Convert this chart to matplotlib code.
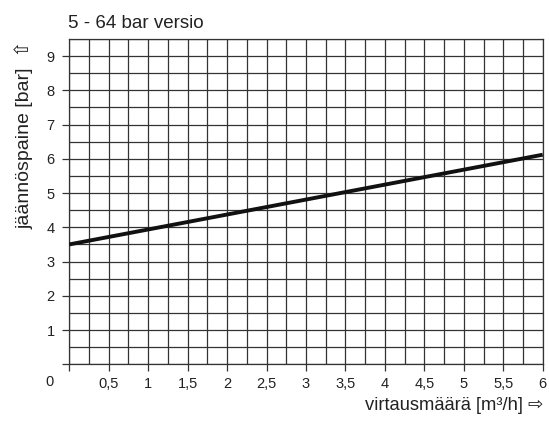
import numpy as np
import matplotlib
matplotlib.use("Agg")
import matplotlib.pyplot as plt

plt.rcParams['font.family'] = ['Liberation Sans', 'DejaVu Sans']

flow = [0.0, 6.0]
pressure = [3.5, 6.12]
x_ticks = [0.5, 1, 1.5, 2, 2.5, 3, 3.5, 4, 4.5, 5, 5.5, 6]
y_ticks = [1, 2, 3, 4, 5, 6, 7, 8, 9]

fig = plt.figure(figsize=(5.49, 4.23), dpi=100)
ax = fig.add_axes([0.1262, 0.1389, 0.9885 - 0.1262, 0.9078 - 0.1389])
ax.set_xlim(0, 6)
ax.set_ylim(0, 9.5)

gc = '#333333'
ax.set_xticks(np.arange(0, 6.01, 0.25), minor=True)
ax.set_yticks(np.arange(0, 9.51, 0.5), minor=True)
ax.grid(which='both', color=gc, linewidth=0.9)
ax.tick_params(which='minor', length=0)

ax.set_xticks([0] + x_ticks)
ax.set_xticklabels([''] + [str(v).replace('.', ',') if v != int(v) else str(int(v)) for v in x_ticks])
ax.set_yticks([0] + y_ticks)
ax.set_yticklabels([''] + [str(v) for v in y_ticks])
ax.tick_params(which='major', length=5, width=0.9, color=gc, labelsize=10.5,
               labelcolor='#222222')
ax.tick_params(axis='x', pad=4.5)
ax.tick_params(axis='y', pad=5.5)
for s in ax.spines.values():
    s.set_color(gc)
    s.set_linewidth(0.9)

ax.plot(flow, pressure, color='#111111', linewidth=2.8, solid_capstyle='butt', zorder=3)

fig.text(50 / 549, 1 - 382 / 423, '0', fontsize=10.5, color='#222222', ha='center', va='center')
fig.text(68 / 549, 1 - 23 / 423, '5 - 64 bar versio', fontsize=13.5, color='#222222', ha='left', va='center')
fig.text(24 / 549, 1 - 135 / 423, 'jäännöspaine [bar]  ⇧', fontsize=14, color='#222222',
         rotation=90, ha='center', va='center')
fig.text(543 / 549, 1 - 405 / 423, 'virtausmäärä [m³/h] ⇨', fontsize=13.2, color='#222222',
         ha='right', va='center')

fig.savefig('out.png', dpi=100)
